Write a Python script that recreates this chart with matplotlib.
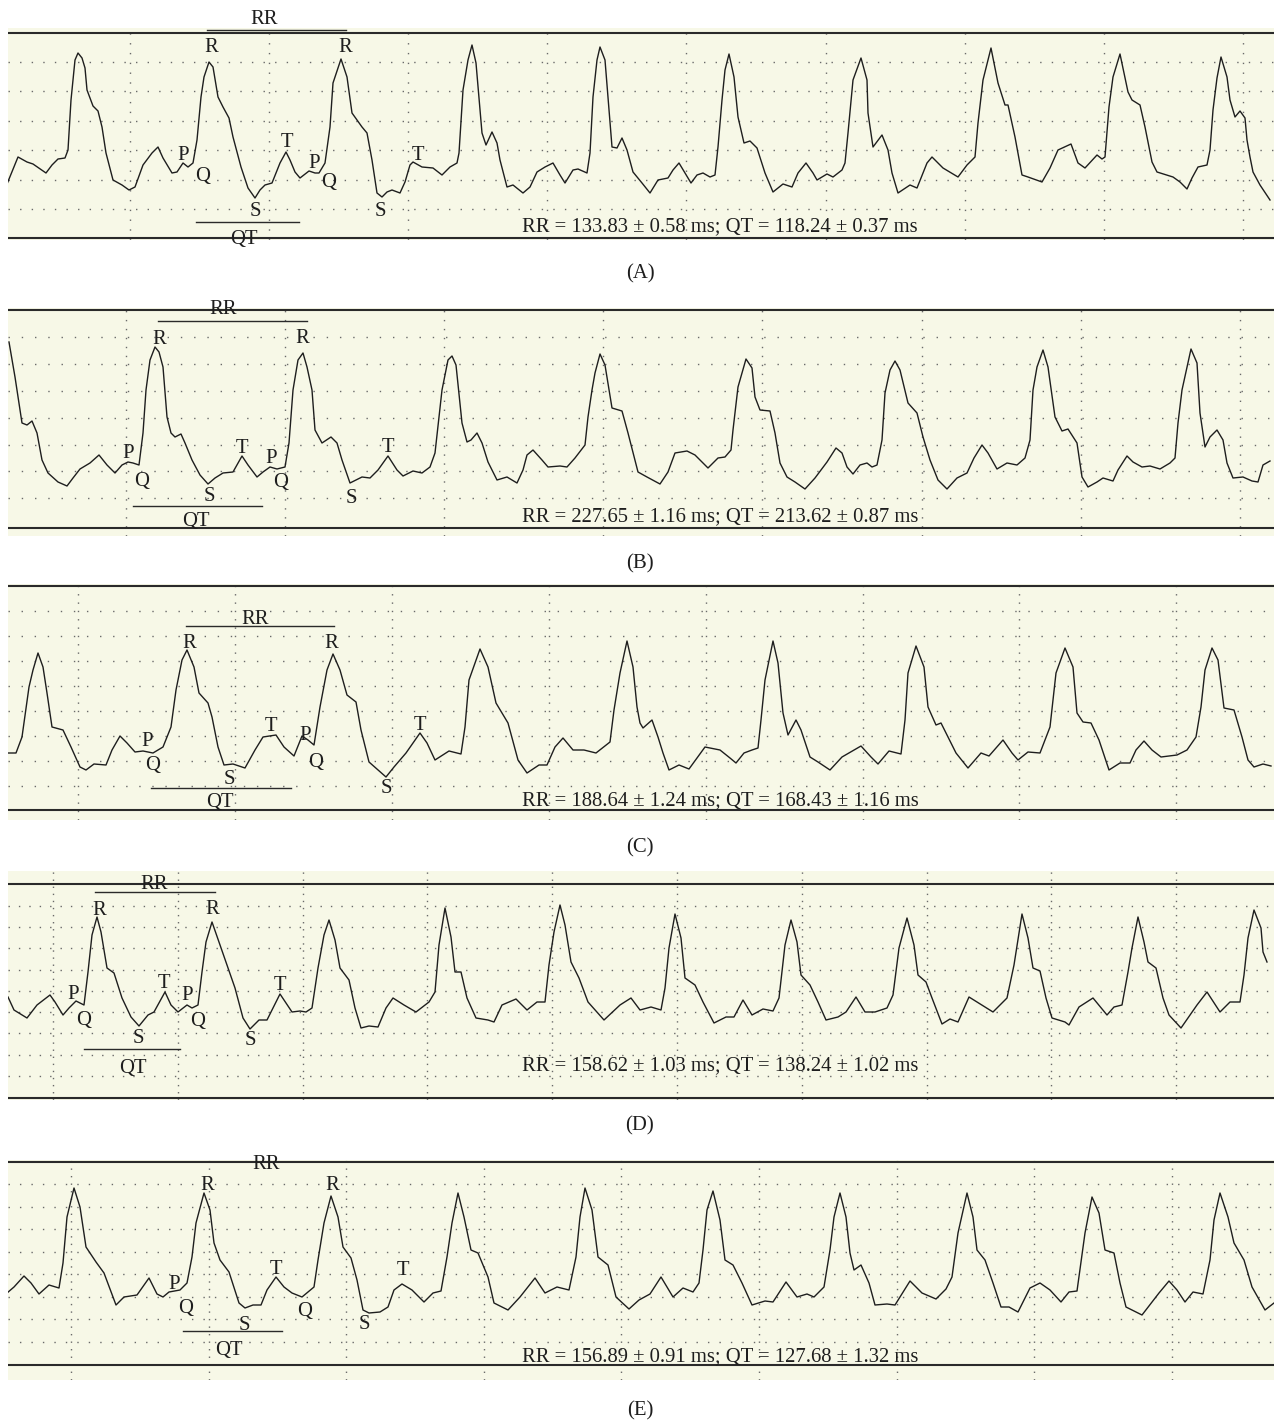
import matplotlib
matplotlib.use("Agg")
import matplotlib.pyplot as plt

plt.rcParams['font.family'] = ['Liberation Serif', 'DejaVu Serif']

# ---------------- data ----------------
panel_names = ["A", "B", "C", "D", "E"]
rr_mean = [133.83, 227.65, 188.64, 158.62, 156.89]
rr_sd = [0.58, 1.16, 1.24, 1.03, 0.91]
qt_mean = [118.24, 213.62, 168.43, 138.24, 127.68]
qt_sd = [0.37, 0.87, 1.16, 1.02, 1.32]

# traces: (time position, amplitude position)
A_trace = [(7,184),(18,157),(27,162),(33,164),(46,173),(52,165),(58,159),(65,158),(68,150),(71,100),(75,60),(78,53),(82,58),(85,68),(87,90),(93,106),(98,111),(102,127),(106,153),(113,180),(122,185),(129,190),(135,187),(143,165),(152,153),(158,147),(163,158),(172,173),(177,172),(183,163),(188,167),(193,163),(197,140),(201,97),(204,77),(209,62),(213,67),(218,97),(223,107),(229,118),(233,137),(241,167),(248,188),(255,198),(260,190),(265,185),(272,183),(280,163),(286,152),(290,160),(295,172),(300,178),(309,171),(315,173),(319,173),(325,163),(330,127),(333,83),(341,59),(347,77),(352,113),(362,127),(367,133),(372,160),(377,193),(382,197),(387,192),(392,190),(400,193),(405,182),(410,165),(413,162),(422,167),(433,168),(442,175),(450,167),
           (457,163),(459,153),(463,90),(468,60),(472,45),(476,63),(480,110),(482,133),(486,145),(492,132),(497,143),(500,160),(507,187),(513,185),(523,193),(530,187),(537,172),(545,167),(553,163),(560,175),(565,183),(573,170),(578,169),(587,173),(590,153),(593,97),(597,60),(600,47),(605,60),(608,97),(612,147),(617,148),(622,138),(627,150),(633,172),(642,183),(650,193),(658,180),(668,178),(673,170),(679,163),(685,173),(691,183),(697,175),(703,173),(710,177),(715,175),(718,147),(722,100),(725,70),(729,54),(734,77),(738,117),(744,143),(750,141),(757,148),(765,173),(773,192),(783,184),(792,187),(798,173),(806,163),(813,173),(817,180),(827,174),(833,177),(842,170),(845,163),(848,133),(853,80),(861,58),(867,80),
           (868,113),(873,147),(882,135),(888,150),(892,173),(898,193),(910,185),(917,188),(927,163),(932,157),(943,168),(958,177),(967,165),(975,157),(978,123),(983,80),(991,48),(998,83),(1005,105),(1008,105),(1015,137),(1022,175),(1028,177),(1042,182),(1050,168),(1058,150),(1071,144),(1078,163),(1085,168),(1097,155),(1102,159),(1105,157),(1109,107),(1113,77),(1120,54),(1128,92),(1132,100),(1140,105),(1145,127),(1152,162),(1157,172),(1173,177),(1180,182),(1187,189),(1192,178),(1198,167),(1207,165),(1210,150),(1213,110),(1217,78),(1221,57),(1227,77),(1230,100),(1235,117),(1240,111),(1245,118),(1247,140),(1250,157),(1253,172),(1260,185),(1270,200)]

B_trace = [(9,342),(15,377),(22,423),(27,425),(32,421),(37,433),(42,460),(48,473),(58,482),(67,486),(73,478),(80,469),(90,463),(99,455),(107,465),(115,473),(122,465),(128,462),(133,463),(139,465),(143,433),(146,390),(150,360),(155,347),(159,352),(163,367),(167,417),(171,433),(175,437),(181,434),(185,443),(192,460),(200,475),(208,484),(215,478),(223,473),(233,472),(242,456),(248,465),(257,477),(263,472),(270,467),(277,469),(285,467),(289,443),(293,390),(298,360),(303,353),(307,367),(312,390),(315,430),(322,443),(331,437),(337,443),(342,460),(350,483),(362,477),(370,478),(378,470),(388,456),(397,470),(403,476),(413,471),(422,473),(430,467),(435,453),(442,390),(448,360),
           (452,356),(456,365),(462,423),(467,442),(471,440),(477,433),(482,443),(488,462),(497,480),(507,477),(517,483),(523,470),(527,455),(533,450),(542,460),(548,467),(560,466),(567,467),(575,458),(585,445),(588,417),(592,390),(595,373),(600,354),(605,365),(612,408),(622,411),(628,433),(638,472),(647,477),(660,484),(668,472),(675,453),(687,451),(695,455),(708,468),(718,458),(725,457),(731,450),(733,430),(738,387),(742,373),(746,359),(752,368),(755,397),(760,410),(770,411),(775,433),(780,463),(787,477),(795,482),(805,489),(815,478),(827,462),(836,448),(842,453),(847,467),(853,474),(860,465),(867,463),
           (872,467),(877,465),(882,440),(885,393),(890,370),(895,361),(900,370),(908,403),(917,413),(923,437),(930,460),(938,480),(947,489),(957,478),(967,473),(974,458),(982,445),(988,453),(997,469),(1007,463),(1017,465),(1025,458),(1030,440),(1033,390),(1037,367),(1043,350),(1048,367),(1055,417),(1062,431),(1068,429),(1077,443),(1082,477),(1088,487),(1097,482),(1103,478),(1113,481),(1118,470),(1127,456),(1133,462),(1142,467),(1150,466),(1160,469),(1170,463),(1175,458),(1178,423),(1182,390),(1187,367),(1191,349),(1197,363),(1200,413),(1205,447),(1210,437),(1217,430),(1223,440),(1227,463),(1233,478),(1243,477),(1252,481),(1258,482),(1263,465),(1270,461)]

C_trace = [(7,753),(16,753),(22,737),(29,687),(33,670),(38,653),(43,667),(47,693),(52,727),(63,730),(71,747),(80,767),(86,770),(94,764),(106,765),(112,750),(120,736),(127,743),(135,752),(143,751),(153,753),(163,747),(171,727),(176,690),(182,660),(187,650),(194,667),(199,693),(208,703),(212,717),(218,747),(224,765),(233,764),(245,768),(255,750),(263,737),(276,735),(284,747),(294,756),(302,736),(308,740),(314,745),(320,707),(327,670),(333,654),(340,670),(347,695),(356,702),(361,730),(369,762),(378,770),(386,777),(394,767),(406,753),(420,733),(427,743),(435,760),(449,751),(461,754),(465,727),(469,680),(480,649),(488,667),(496,703),(508,723),(518,760),(527,773),(539,765),(547,765),(555,747),(563,738),(573,750),(584,750),(596,753),(610,742),(614,710),(620,673),(627,641),(633,667),(637,707),(640,723),
           (643,728),(652,720),(658,737),(663,753),(669,770),(679,765),(689,769),(697,758),(705,747),(720,750),(730,758),(736,763),(744,753),(752,750),(758,748),(761,720),(765,680),(773,641),(778,663),(783,713),(788,735),(796,720),(801,730),(810,757),(818,762),(830,770),(842,757),(861,746),(871,757),(878,764),(889,751),(901,754),(905,720),(908,673),(916,646),(924,667),(928,707),(936,725),(941,723),(948,737),(956,753),(968,768),(981,753),(989,756),(1003,740),(1012,753),(1018,760),(1028,752),(1040,753),(1050,727),(1056,673),(1065,648),(1073,667),(1077,713),(1083,722),(1091,723),(1099,740),(1109,770),(1120,763),(1130,763),(1136,750),(1144,741),(1152,750),(1161,757),(1177,755),(1187,750),(1196,737),(1201,707),(1205,670),(1212,648),(1218,660),(1224,708),(1234,710),(1242,737),(1248,760),(1254,767),(1263,764),(1271,766)]

D_trace = [(8,997),(14,1010),(27,1018),(37,1005),(50,995),(55,1002),(63,1015),(69,1008),(76,1001),(84,1005),(88,972),(92,935),(97,917),(101,932),(107,968),(114,973),(122,998),(131,1017),(139,1026),(148,1015),(154,1012),(165,992),(171,1005),(178,1012),(187,1005),(192,1008),(198,1005),(202,972),(206,942),(212,922),(220,945),(227,965),(235,988),(243,1018),(250,1029),(259,1020),(267,1020),(280,994),(286,1003),(292,1012),(300,1011),(306,1012),(312,1008),(318,968),(324,935),(329,920),(335,940),(340,968),(349,980),(355,1008),(361,1028),(369,1026),(378,1027),(386,1008),(393,998),(404,1005),(416,1012),(429,1002),(435,992),(439,945),(445,908),(451,937),(455,972),(461,972),(467,998),(476,1018),(488,1020),(494,1022),(502,1005),(516,999),(527,1010),(537,1002),(545,1002),(549,965),(554,932),(560,905),(565,925),(571,962),(579,978),(588,1002),(604,1020),(620,1005),(631,998),(640,1010),
           (651,1007),(661,1010),(665,988),(669,948),(675,914),(681,938),(685,978),(695,985),(703,1002),(714,1023),(726,1017),(734,1017),(743,1000),(752,1015),(763,1009),(773,1011),(779,998),(785,945),(791,920),(797,942),(801,975),(810,985),(818,1002),(826,1020),(838,1017),(846,1012),(856,997),(865,1012),(875,1012),(887,1008),(893,995),(899,948),(907,918),(914,945),(918,975),(926,982),(932,998),(942,1024),(950,1019),(958,1022),(969,997),(993,1012),(1007,998),(1014,965),(1022,914),(1028,938),(1033,968),(1040,971),(1046,998),(1052,1018),(1065,1022),(1069,1025),(1079,1007),(1093,998),(1107,1015),(1114,1007),(1122,1005),(1128,972),(1132,948),(1138,917),(1144,942),(1148,962),(1156,968),(1163,998),(1169,1015),(1181,1028),(1197,1005),(1207,992),(1220,1012),(1230,1002),(1240,1002),(1244,975),(1248,938),(1254,910),(1261,928),(1263,952),(1267,962)]

E_trace = [(7,1293),(14,1287),(24,1276),(31,1283),(39,1294),(49,1285),(59,1288),(63,1263),(67,1217),(74,1188),(80,1207),(86,1247),(96,1262),(104,1273),(116,1305),(124,1297),(137,1295),(149,1278),(157,1294),(163,1297),(169,1292),(180,1290),(187,1283),(192,1257),(196,1223),(204,1193),(210,1210),(214,1243),(220,1260),(229,1272),(239,1303),(245,1308),(253,1305),(261,1305),(267,1290),(276,1277),(284,1287),(292,1293),(302,1297),(314,1287),(318,1260),(324,1223),(331,1196),(338,1217),(343,1247),(351,1258),(357,1280),(363,1310),(369,1313),(380,1312),(388,1307),(394,1290),(402,1284),(412,1290),(424,1302),(433,1293),(441,1291),(447,1257),(452,1223),(458,1193),(464,1217),(471,1250),(478,1253),(488,1277),(494,1303),(508,1310),(520,1297),(535,1278),(545,1293),(557,1287),(569,1290),(576,1257),(580,1217),(585,1188),(592,1210),(598,1257),(608,1265),(616,1297),(629,1309),(639,1300),
           (650,1294),(661,1277),(673,1297),(683,1288),(693,1292),(699,1283),(703,1250),(707,1210),(713,1191),(720,1220),(725,1260),(733,1265),(742,1283),(752,1305),(765,1301),(773,1302),(786,1282),(797,1297),(807,1294),(814,1297),(824,1287),(830,1250),(834,1217),(840,1193),(846,1217),(850,1253),(854,1270),(861,1265),(869,1283),(875,1305),(887,1304),(895,1305),(910,1281),(922,1293),(936,1299),(946,1289),(952,1277),(958,1233),(967,1193),(973,1217),(977,1250),(985,1260),(993,1283),(1001,1307),(1009,1307),(1018,1312),(1030,1288),(1040,1283),(1050,1290),(1061,1302),(1069,1292),(1077,1291),(1085,1233),(1092,1197),(1099,1213),(1105,1250),(1114,1253),(1120,1283),(1126,1307),(1142,1315),(1159,1293),(1169,1281),(1177,1290),(1185,1302),(1193,1292),(1203,1294),(1210,1260),(1214,1220),(1220,1193),(1228,1217),(1234,1243),(1244,1260),(1252,1287),(1265,1310),(1274,1303)]

# wave labels (label, anchor)
A_labels = [("RR",264,17),("R",211,45),("R",345,45),("P",183,153),("Q",203,174),("T",287,140),("P",314,161),("Q",329,180),("S",255,209),("S",380,209),("T",418,153),("QT",244,237)]
B_labels = [("RR",223,307),("R",159,337),("R",302,336),("P",128,451),("Q",142,479),("S",209,494),("T",242,446),("P",271,456),("Q",281,480),("S",351,496),("T",388,445),("QT",196,519)]
C_labels = [("RR",255,617),("R",189,641),("R",331,641),("P",147,739),("Q",153,763),("S",229,777),("T",271,724),("P",305,733),("Q",316,760),("S",386,786),("T",420,723),("QT",220,800)]
D_labels = [("RR",154,882),("R",99,908),("R",212,907),("P",73,992),("Q",84,1018),("S",138,1036),("T",164,981),("P",187,993),("Q",198,1019),("S",250,1038),("T",280,983),("QT",133,1066)]
E_labels = [("RR",266,1162),("R",207,1183),("R",332,1183),("P",174,1282),("Q",186,1306),("T",276,1267),("Q",305,1309),("S",244,1323),("S",364,1322),("T",403,1268),("QT",229,1348)]

# interval bars (RR, QT): (start, end, level)
A_bars = [(207,346,30),(196,299,222)]
B_bars = [(158,307,321),(133,262,506)]
C_bars = [(186,334,626),(151,291,788)]
D_bars = [(95,215,892),(84,180,1049)]
E_bars = [(183,282,1331)]

traces = [A_trace, B_trace, C_trace, D_trace, E_trace]
labels = [A_labels, B_labels, C_labels, D_labels, E_labels]
bars = [A_bars, B_bars, C_bars, D_bars, E_bars]

# ---------------- layout (pixel geometry of the page) ----------------
W, H, DPI = 1274, 1420, 100
X0, X1 = 8, 1274
bg_span = [(28, 240), (308, 536), (584, 820), (871, 1100), (1160, 1380)]
border = [(33, 238), (310, 528), (586, 810), (884, 1098), (1162, 1365)]
row_grid = [(62, 29.4, 6), (337, 26.9, 7), (611, 25.0, 8), (906, 21.25, 9), (1184, 22.57, 8)]
col_grid = [(130, 139.1, 9), (126, 159.1, 8), (78, 156.9, 8), (53, 124.8, 10), (71, 137.6, 9)]
stats_y = [224, 514, 798, 1063, 1354]
caption_y = [271, 561, 845, 1123, 1408]

BG = '#f7f8e7'
DOT = '#6a6a6a'
INK = '#1e1e1e'
FS = 14.9

fig = plt.figure(figsize=(W / DPI, H / DPI), dpi=DPI)
fig.patch.set_facecolor('white')

px2pt = 72.0 / DPI

for i, name in enumerate(panel_names):
    top, bot = bg_span[i]
    ax = fig.add_axes([X0 / W, 1 - bot / H, (X1 - X0) / W, (bot - top) / H])
    ax.set_xlim(X0, X1)
    ax.set_ylim(bot, top)
    ax.set_facecolor(BG)
    for s in ax.spines.values():
        s.set_visible(False)
    ax.set_xticks([])
    ax.set_yticks([])

    # dotted grid
    r0, rstep, rn = row_grid[i]
    c0, cstep, cn = col_grid[i]
    hper = cstep / 12.0 * px2pt
    vper = rstep / 3.0 * px2pt
    for k in range(rn):
        ax.axhline(r0 + k * rstep, color=DOT, lw=1.0,
                   linestyle=(0, (1.0, hper - 1.0)), zorder=1)
    for k in range(cn):
        ax.axvline(c0 + k * cstep, color=DOT, lw=1.0,
                   linestyle=(0, (1.0, vper - 1.0)), zorder=1)

    # border lines
    for yb in border[i]:
        ax.plot([X0, X1], [yb, yb], color='#2a2a2a', lw=1.5, zorder=3,
                clip_on=False, solid_capstyle='butt')

    # trace
    t = [p[0] for p in traces[i]]
    v = [p[1] for p in traces[i]]
    ax.plot(t, v, color=INK, lw=1.0, zorder=4, solid_joinstyle='round')

    # interval bars
    for (xa, xb, yl) in bars[i]:
        ax.plot([xa, xb], [yl, yl], color='#2a2a2a', lw=1.0, zorder=4,
                clip_on=False)

    # wave labels
    for (txt, lx, ly) in labels[i]:
        ax.text(lx, ly, txt, ha='center', va='center_baseline', fontsize=FS,
                color=INK, zorder=5, clip_on=False)

    # statistics
    s = "RR = %.2f \u00b1 %.2f ms; QT = %.2f \u00b1 %.2f ms" % (
        rr_mean[i], rr_sd[i], qt_mean[i], qt_sd[i])
    ax.text(522, stats_y[i], s, ha='left', va='center_baseline', fontsize=FS,
            color=INK, zorder=5, clip_on=False)

    # caption
    ax.text(640, caption_y[i], "(%s)" % name, ha='center', va='center_baseline',
            fontsize=FS, color=INK, clip_on=False)

fig.savefig('out.png', dpi=DPI, facecolor='white')
